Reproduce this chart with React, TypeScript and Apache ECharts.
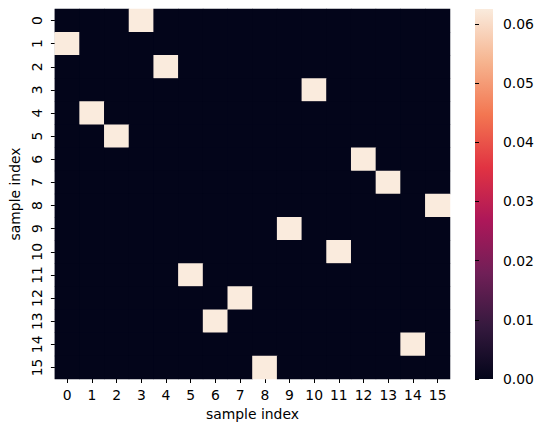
import React, { useEffect, useRef } from "react";
import * as echarts from "echarts";

const xCategories = ["0","1","2","3","4","5","6","7","8","9","10","11","12","13","14","15"];
const yCategories = ["0","1","2","3","4","5","6","7","8","9","10","11","12","13","14","15"];
// column of the bright cell in each row (row index = position)
const brightColumnPerRow = [3, 0, 4, 10, 1, 2, 12, 13, 15, 9, 11, 5, 7, 6, 14, 8];
const highValue = 0.0625;
const lowValue = 0;
const colorbarTicks = [0, 0.01, 0.02, 0.03, 0.04, 0.05, 0.06];
const rocketColors = ["#03051A", "#35193E", "#701F57", "#AD1759", "#E13342", "#F37651", "#F6B48F", "#FAEBDD"];

const FONT = "DejaVu Sans";
const FS = 13.9;

export default function App() {
  const ref = useRef<HTMLDivElement>(null);
  useEffect(() => {
    if (!ref.current) return;
    const chart = echarts.init(ref.current, null, { renderer: "svg" });
    const data: number[][] = [];
    yCategories.forEach((_, r) => {
      xCategories.forEach((_, c) => {
        data.push([c, r, brightColumnPerRow[r] === c ? highValue : lowValue]);
      });
    });
    const stops = rocketColors.map((color, i) => ({ offset: i / (rocketColors.length - 1), color }));
    chart.setOption({
      animation: false,
      textStyle: { fontFamily: FONT },
      grid: [
        { left: 53, top: 9, width: 397, height: 370, show: true, backgroundColor: rocketColors[0], borderWidth: 0 },
        { left: 475, top: 9, width: 18, height: 370 },
      ],
      graphic: [
        {
          type: "rect",
          left: 475,
          top: 9,
          z: 0,
          shape: { width: 18, height: 370 },
          style: { fill: new echarts.graphic.LinearGradient(0, 1, 0, 0, stops) },
        },
      ],
      xAxis: [
        {
          type: "category",
          data: xCategories,
          gridIndex: 0,
          position: "bottom",
          axisLine: { show: false },
          axisTick: { show: true, length: 4, alignWithLabel: true, lineStyle: { color: "#000", width: 1 } },
          axisLabel: { color: "#000", fontSize: FS, fontFamily: FONT, margin: 9 },
          splitLine: { show: false },
          name: "sample index",
          nameLocation: "middle",
          nameGap: 27,
          nameTextStyle: { color: "#000", fontSize: FS, fontFamily: FONT, verticalAlign: "top" },
        },
        {
          type: "value",
          gridIndex: 1,
          axisLine: { show: false },
          axisTick: { show: false },
          axisLabel: { show: false },
          splitLine: { show: false },
        },
      ],
      yAxis: [
        {
          type: "category",
          data: yCategories,
          gridIndex: 0,
          inverse: true,
          axisLine: { show: false },
          axisTick: { show: true, length: 4, alignWithLabel: true, lineStyle: { color: "#000", width: 1 } },
          axisLabel: { color: "#000", fontSize: FS, fontFamily: FONT, rotate: 90, margin: 11 },
          splitLine: { show: false },
          name: "sample index",
          nameLocation: "middle",
          nameGap: 31,
          nameRotate: 90,
          nameTextStyle: { color: "#000", fontSize: FS, fontFamily: FONT },
        },
        {
          type: "value",
          gridIndex: 1,
          position: "right",
          min: 0,
          max: highValue,
          axisLine: { show: false },
          axisTick: { show: true, length: 4, customValues: colorbarTicks, lineStyle: { color: "#000", width: 1 } },
          axisLabel: {
            color: "#000",
            fontSize: FS,
            fontFamily: FONT,
            margin: 10,
            customValues: colorbarTicks,
            formatter: (v: number) => v.toFixed(2),
          },
          splitLine: { show: false },
        },
      ],
      visualMap: {
        type: "continuous",
        show: false,
        min: 0,
        max: highValue,
        seriesIndex: 0,
        inRange: { color: rocketColors },
      },
      series: [
        {
          type: "heatmap",
          xAxisIndex: 0,
          yAxisIndex: 0,
          data,
          emphasis: { disabled: true },
          itemStyle: { borderWidth: 0 },
        },
      ],
    });
    return () => chart.dispose();
  }, []);
  return <div ref={ref} style={{ width: 543, height: 432, position: "absolute", left: 0, top: 0 }} />;
}
